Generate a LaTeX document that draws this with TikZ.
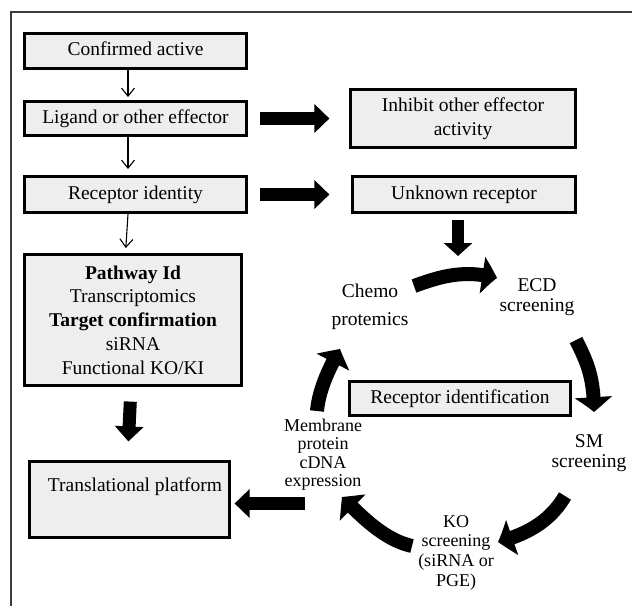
\documentclass[tikz,border=0pt]{standalone}
\usepackage{fontspec}
\setmainfont{Liberation Serif}
\usetikzlibrary{arrows.meta,bending}
\definecolor{boxgray}{RGB}{238,238,238}
\definecolor{framegray}{RGB}{60,60,60}
\newcommand\fsBig{\fontsize{19.5}{23.75}\selectfont}
\newcommand\fsSmall{\fontsize{18}{18.5}\selectfont}
\begin{document}
\begin{tikzpicture}[x=1pt,y=-1pt,
  boxbase/.style={draw=black, line width=3.2pt, fill=boxgray, inner sep=0pt, font=\fsBig, text=black},
  onebox/.style={boxbase, text height=13.5pt, text depth=4.5pt},
  cyctext/.style={inner sep=0pt, align=center, text=black},
  thinarr/.style={line width=1.1pt, -{Straight Barb[length=8pt,width=13pt]}},
  fatarr/.style={line width=13pt, -{Triangle[length=15pt,width=28pt]}},
  curvyarr/.style={line width=14pt, -{Triangle[length=15pt,width=36pt,bend]}},
  framestyle/.style={draw=framegray, line width=1.3pt}]
\useasboundingbox (0,0) rectangle (632,606);
\draw[framestyle] (632,12) -- (11,12) -- (11,606);

% left column
\node[onebox, minimum width=221.8pt, minimum height=34.8pt] (ca) at (135.5,51) {Confirmed active};
\node[onebox, minimum width=221.8pt, minimum height=33.8pt] (lig) at (135.5,118.5) {Ligand or other effector};
\node[onebox, minimum width=221.8pt, minimum height=35.8pt] (rid) at (135.5,194.5) {Receptor identity};
\node[boxbase, align=center, minimum width=216.8pt, minimum height=130.8pt] (pw) at (133,320)
  {\textbf{Pathway Id}\\Transcriptomics\\\textbf{Target confirmation}\\siRNA\\Functional KO/KI};
\node[boxbase, minimum width=199.8pt, minimum height=75.8pt] (tp) at (129.5,499.5) {};
\node[inner sep=0pt, font=\fsBig, anchor=base] (tpt) at (135,491) {Translational platform};

% right column
\node[boxbase, align=center, minimum width=224.8pt, minimum height=57.8pt] (inh) at (463,118.5)
  {Inhibit other effector\\activity};
\node[onebox, minimum width=222.8pt, minimum height=35.8pt] (unk) at (464,194.5) {Unknown receptor};
\node[onebox, minimum width=220.8pt, minimum height=33.8pt] (rec) at (460,398.5) {Receptor identification};

% cycle labels
\node[cyctext, font=\fontsize{19.5}{28}\selectfont] (chemo) at (370,307) {Chemo\\protemics};
\node[cyctext, font=\fontsize{19.5}{20.5}\selectfont] (ecd) at (537,297) {ECD\\screening};
\node[cyctext, font=\fontsize{19.5}{20.5}\selectfont] (sm) at (589,453) {SM\\screening};
\node[cyctext, font=\fontsize{18}{19.7}\selectfont] (ko) at (456,552.5) {KO\\screening\\(siRNA or\\PGE)};
\node[cyctext, font=\fontsize{18}{18.4}\selectfont] (mem) at (323,454.5) {Membrane\\protein\\cDNA\\expression};

% thin arrows
\draw[thinarr, shorten >=3pt] ([xshift=-7.5pt]ca.south) -- ([xshift=-7.5pt]lig.north);
\draw[thinarr, shorten >=6pt] ([xshift=-7.5pt]lig.south) -- ([xshift=-7.5pt]rid.north);
\draw[thinarr, shorten >=5pt] ([xshift=-7.5pt]rid.south) -- ([xshift=-7.5pt]pw.north);

% fat straight arrows
\draw[fatarr, shorten <=11.5pt, shorten >=19.6pt] (lig.east) -- (lig.east -| inh.west);
\draw[fatarr, shorten <=11.5pt, shorten >=21.6pt] (rid.east) -- (rid.east -| unk.west);
\coordinate (cycin) at (458,256);
\draw[line width=12pt, -{Triangle[length=13pt,width=28pt]}, shorten <=5.6pt] ([xshift=-6pt]unk.south) -- (cycin);
\draw[fatarr, shorten <=14.6pt, shorten >=18.6pt] ([xshift=-2pt]pw.south) -- ([xshift=-2pt]tp.north);
\coordinate (memout) at (305,503.5);
\draw[fatarr, shorten >=3.6pt] (memout) -- (memout -| tp.east);

% cycle arrows
\coordinate (c1a) at (414,286); \coordinate (c1b) at (497,278);
\draw[curvyarr] (c1a) .. controls (439,277) and (463,269) .. (c1b);
\coordinate (c2a) at (576,340); \coordinate (c2b) at (594,412);
\draw[curvyarr] (c2a) .. controls (587,362) and (594,377) .. (c2b);
\coordinate (c3a) at (565,496); \coordinate (c3b) at (498,542);
\draw[curvyarr] (c3a) .. controls (552,518) and (532,533) .. (c3b);
\coordinate (c4a) at (412,546); \coordinate (c4b) at (342,497);
\draw[curvyarr] (c4a) .. controls (385,540) and (363,518) .. (c4b);
\coordinate (c5a) at (317,411); \coordinate (c5b) at (340,349);
\draw[curvyarr] (c5a) .. controls (319,390) and (328,370) .. (c5b);
\end{tikzpicture}
\end{document}
